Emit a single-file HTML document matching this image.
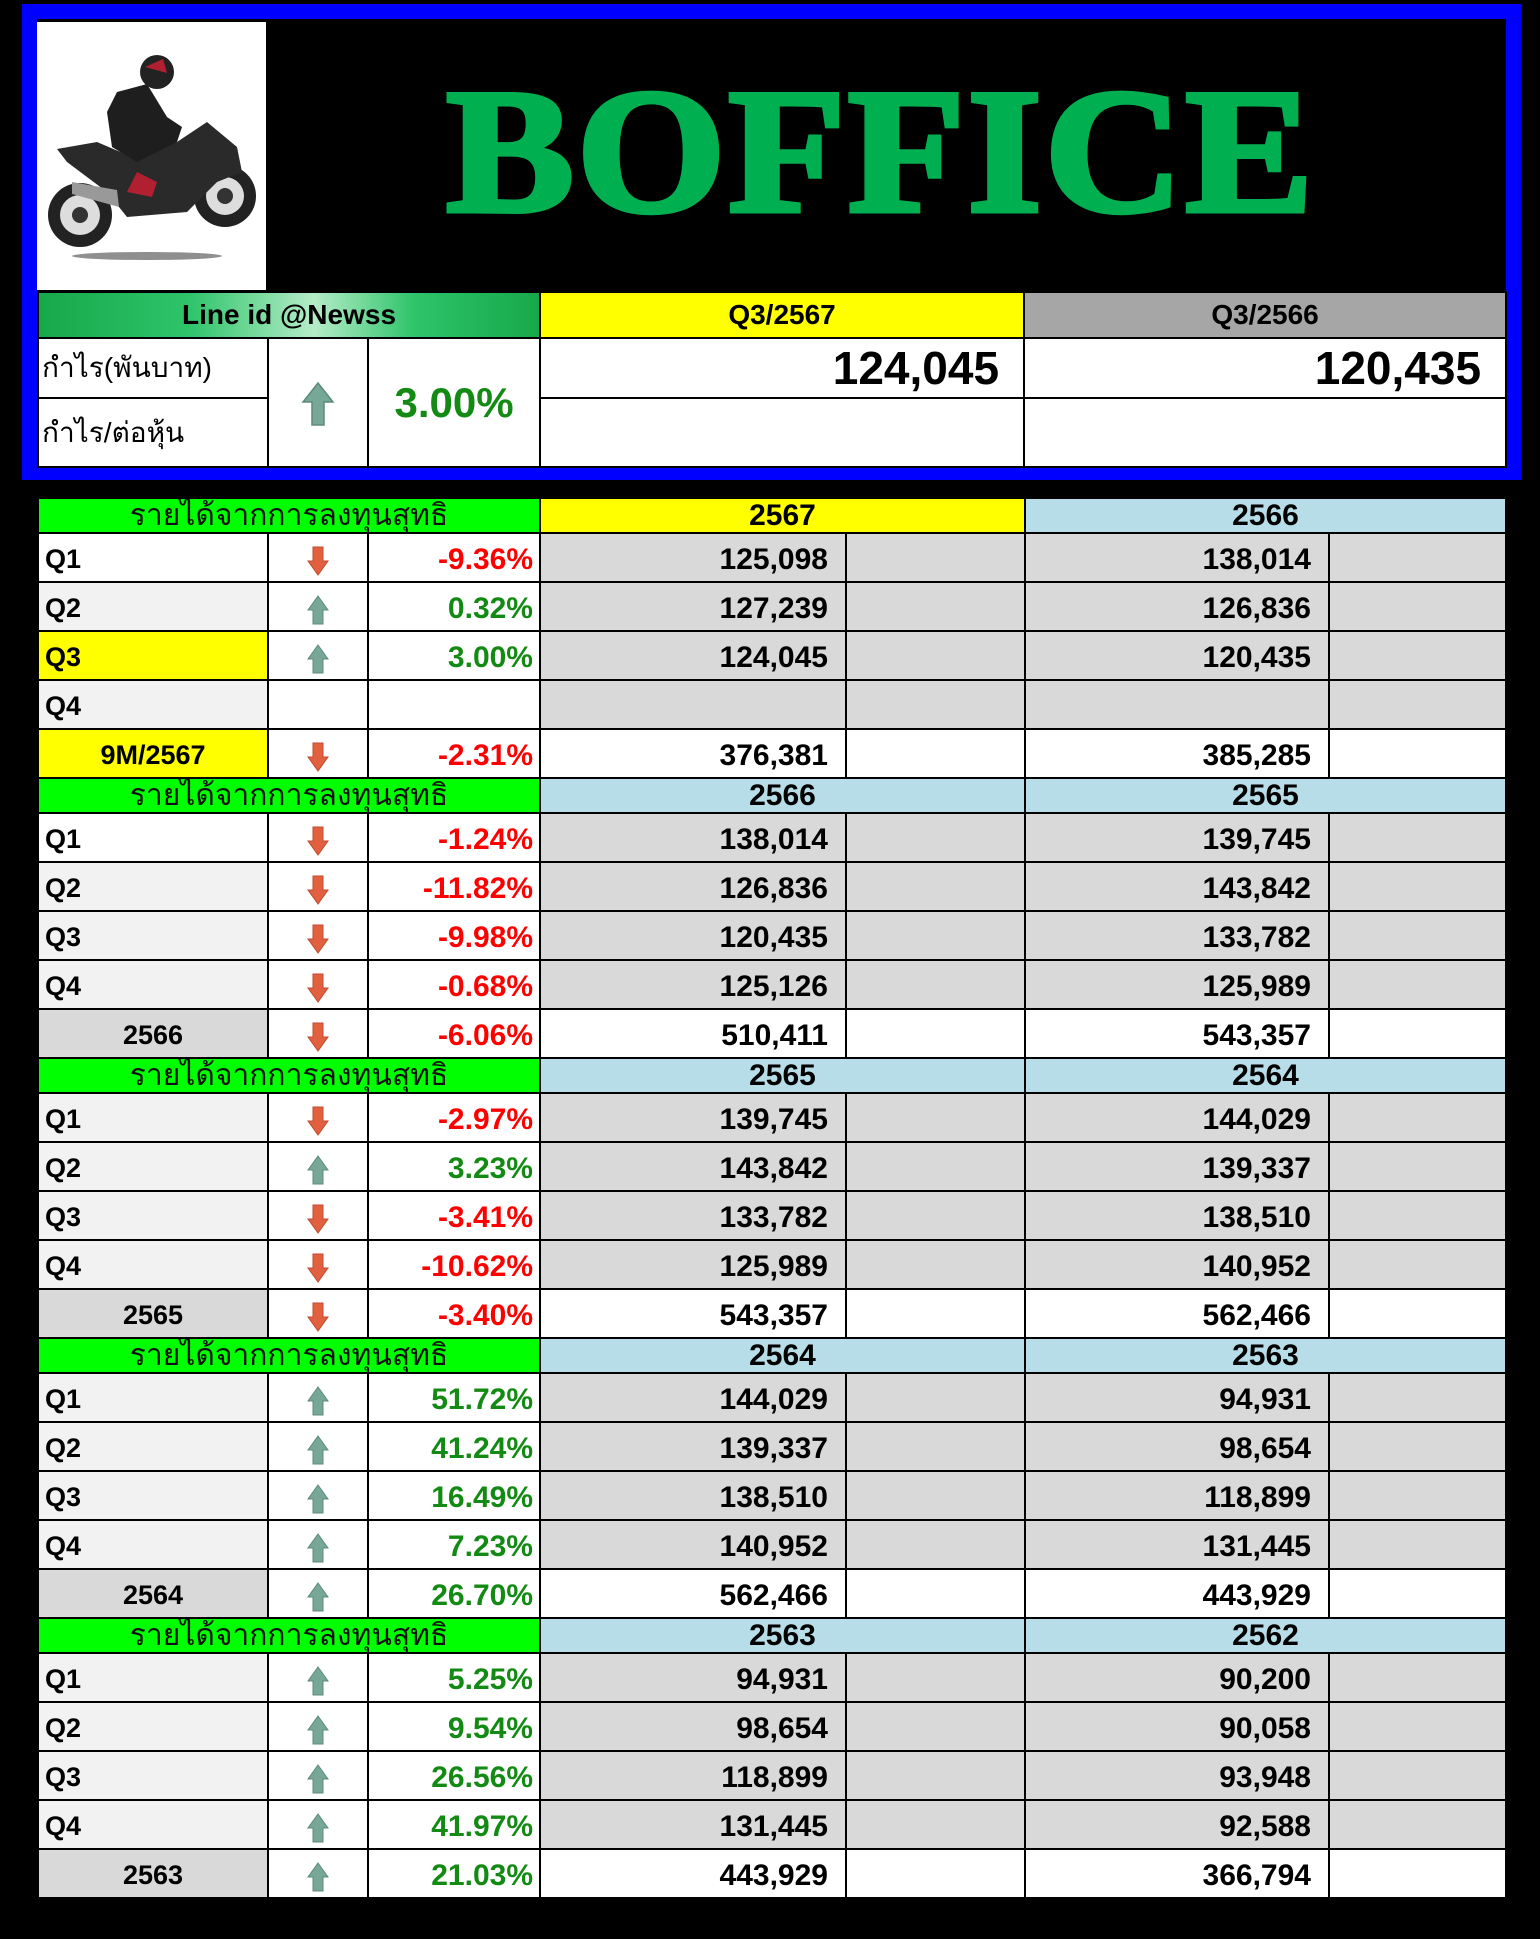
<!DOCTYPE html>
<html><head><meta charset="utf-8">
<style>
*{margin:0;padding:0;box-sizing:border-box}
body{width:1540px;height:1939px;background:#000;position:relative;overflow:hidden;font-family:"Liberation Sans Narrow","Liberation Sans",sans-serif;font-weight:bold}
.abs{position:absolute}
#frame{left:22px;top:4px;width:1499px;height:476px;border:15px solid #0000ff;border-bottom-width:14px;background:#000}
#logo{left:37px;top:22px;width:229px;height:268px;background:#fff}
#title{left:446px;top:66px;width:890px;font-family:"Liberation Serif",serif;font-size:178px;color:#00b050;line-height:170px;letter-spacing:2px;-webkit-text-stroke:5px #00b050;transform:scaleX(1.08);transform-origin:left}
table{border-collapse:collapse;table-layout:fixed;position:absolute}
td{border:2px solid #000;padding:0 6px;white-space:nowrap;overflow:hidden;vertical-align:middle}
td svg{display:block;margin:2px auto 0}
#top{left:37px;top:291px;width:1468px}
#top td{background:#fff}
#main{left:37px;top:497px;width:1468px}
#main tr.h td{height:35px;font-size:30px;text-align:center;line-height:30px}
#main tr.d td{height:49px;font-size:30px;padding-top:4px}
.g{background:#00ff00!important;font-family:"Liberation Sans",sans-serif;font-weight:normal;color:#111}
.y{background:#ffff00!important}
.b{background:#b7dde8!important}
.gr{background:#d9d9d9!important}
.lg{background:#f2f2f2!important}
.w{background:#fff!important}
.r{text-align:right}
.c{text-align:center}
.red{color:#ff0000}
.grn{color:#138a13}
.lab{font-size:27px!important}
</style></head><body>
<div id="frame" class="abs"></div>
<div id="logo" class="abs">
<svg width="229" height="268" viewBox="0 0 229 268">
<ellipse cx="110" cy="234" rx="75" ry="4" fill="#444" opacity=".6"/>
<circle cx="43" cy="193" r="32" fill="#222"/><circle cx="43" cy="193" r="20" fill="#ddd"/><circle cx="43" cy="193" r="8" fill="#333"/>
<circle cx="188" cy="174" r="31" fill="#222"/><circle cx="188" cy="174" r="19" fill="#ddd"/><circle cx="188" cy="174" r="8" fill="#333"/>
<polygon points="20,127 60,120 95,135 140,120 170,100 200,125 205,150 180,160 150,190 90,195 70,170 30,140" fill="#2a2a2a"/>
<polygon points="35,160 80,168 82,185 35,172" fill="#999"/>
<polygon points="80,70 110,62 130,95 145,105 140,120 100,140 75,125 70,90" fill="#1e1e1e"/>
<circle cx="120" cy="50" r="17" fill="#222"/><path d="M108 45 l18 -8 l4 14z" fill="#b02030"/>
<polygon points="100,150 120,160 115,175 90,170" fill="#b02030"/>
</svg></div>
<div id="title" class="abs">BOFFICE</div>

<table id="top">
<colgroup><col style="width:230px"><col style="width:100px"><col style="width:172px"><col style="width:484px"><col style="width:482px"></colgroup>
<tr style="height:46px"><td colspan="3" class="c" style="background:linear-gradient(90deg,#17a84a,#2ec46a 30%,#b5ecc8 55%,#2ec46a 75%,#17a84a)!important;font-size:28px">Line id @Newss</td><td class="c y" style="font-size:28px">Q3/2567</td><td class="c" style="background:#a6a6a6;font-size:28px">Q3/2566</td></tr>
<tr style="height:60px"><td style="font-family:'Liberation Sans',sans-serif;font-weight:normal;font-size:28px;padding-left:3px">กำไร(พันบาท)</td>
<td rowspan="2" class="c"><svg width="34" height="44" viewBox="0 0 34 44"><path d="M17 1 L32 20 L23 20 L23 43 L11 43 L11 20 L2 20 Z" fill="#76a797" stroke="#5d8a7c" stroke-width="1.5"/></svg></td>
<td rowspan="2" class="c grn" style="font-size:42px">3.00%</td>
<td class="r" style="font-size:46px;padding-right:24px">124,045</td><td class="r" style="font-size:46px;padding-right:24px">120,435</td></tr>
<tr style="height:69px"><td style="font-family:'Liberation Sans',sans-serif;font-weight:normal;font-size:28px;padding-left:3px">กำไร/ต่อหุ้น</td><td></td><td></td></tr>
</table>

<table id="main">
<colgroup><col style="width:230px"><col style="width:100px"><col style="width:172px"><col style="width:306px"><col style="width:179px"><col style="width:304px"><col style="width:177px"></colgroup>
<!-- S1 -->
<tr class="h"><td colspan="3" class="g">รายได้จากการลงทุนสุทธิ</td><td colspan="2" class="y">2567</td><td colspan="2" class="b">2566</td></tr>
<tr class="d"><td class="w lab">Q1</td><td class="w c"><svg width="22" height="30" viewBox="0 0 22 30"><path d="M6 1 L16 1 L16 15 L21 15 L11 29 L1 15 L6 15 Z" fill="#e0603f" stroke="#c24a2e"/></svg></td><td class="w r red">-9.36%</td><td class="gr r" style="padding-right:17px">125,098</td><td class="gr"></td><td class="gr r" style="padding-right:17px">138,014</td><td class="gr"></td></tr>
<tr class="d"><td class="lg lab">Q2</td><td class="w c"><svg width="22" height="30" viewBox="0 0 22 30"><path d="M11 1 L21 15 L16 15 L16 29 L6 29 L6 15 L1 15 Z" fill="#76a797" stroke="#5d8a7c"/></svg></td><td class="w r grn">0.32%</td><td class="gr r" style="padding-right:17px">127,239</td><td class="gr"></td><td class="gr r" style="padding-right:17px">126,836</td><td class="gr"></td></tr>
<tr class="d"><td class="y lab">Q3</td><td class="w c"><svg width="22" height="30" viewBox="0 0 22 30"><path d="M11 1 L21 15 L16 15 L16 29 L6 29 L6 15 L1 15 Z" fill="#76a797" stroke="#5d8a7c"/></svg></td><td class="w r grn">3.00%</td><td class="gr r" style="padding-right:17px">124,045</td><td class="gr"></td><td class="gr r" style="padding-right:17px">120,435</td><td class="gr"></td></tr>
<tr class="d"><td class="lg lab">Q4</td><td class="w"></td><td class="w"></td><td class="gr"></td><td class="gr"></td><td class="gr"></td><td class="gr"></td></tr>
<tr class="d"><td class="y c lab">9M/2567</td><td class="w c"><svg width="22" height="30" viewBox="0 0 22 30"><path d="M6 1 L16 1 L16 15 L21 15 L11 29 L1 15 L6 15 Z" fill="#e0603f" stroke="#c24a2e"/></svg></td><td class="w r red">-2.31%</td><td class="w r" style="padding-right:17px">376,381</td><td class="w"></td><td class="w r" style="padding-right:17px">385,285</td><td class="w"></td></tr>
<!-- S2 -->
<tr class="h"><td colspan="3" class="g">รายได้จากการลงทุนสุทธิ</td><td colspan="2" class="b">2566</td><td colspan="2" class="b">2565</td></tr>
<tr class="d"><td class="w lab">Q1</td><td class="w c"><svg width="22" height="30" viewBox="0 0 22 30"><path d="M6 1 L16 1 L16 15 L21 15 L11 29 L1 15 L6 15 Z" fill="#e0603f" stroke="#c24a2e"/></svg></td><td class="w r red">-1.24%</td><td class="gr r" style="padding-right:17px">138,014</td><td class="gr"></td><td class="gr r" style="padding-right:17px">139,745</td><td class="gr"></td></tr>
<tr class="d"><td class="lg lab">Q2</td><td class="w c"><svg width="22" height="30" viewBox="0 0 22 30"><path d="M6 1 L16 1 L16 15 L21 15 L11 29 L1 15 L6 15 Z" fill="#e0603f" stroke="#c24a2e"/></svg></td><td class="w r red">-11.82%</td><td class="gr r" style="padding-right:17px">126,836</td><td class="gr"></td><td class="gr r" style="padding-right:17px">143,842</td><td class="gr"></td></tr>
<tr class="d"><td class="lg lab">Q3</td><td class="w c"><svg width="22" height="30" viewBox="0 0 22 30"><path d="M6 1 L16 1 L16 15 L21 15 L11 29 L1 15 L6 15 Z" fill="#e0603f" stroke="#c24a2e"/></svg></td><td class="w r red">-9.98%</td><td class="gr r" style="padding-right:17px">120,435</td><td class="gr"></td><td class="gr r" style="padding-right:17px">133,782</td><td class="gr"></td></tr>
<tr class="d"><td class="lg lab">Q4</td><td class="w c"><svg width="22" height="30" viewBox="0 0 22 30"><path d="M6 1 L16 1 L16 15 L21 15 L11 29 L1 15 L6 15 Z" fill="#e0603f" stroke="#c24a2e"/></svg></td><td class="w r red">-0.68%</td><td class="gr r" style="padding-right:17px">125,126</td><td class="gr"></td><td class="gr r" style="padding-right:17px">125,989</td><td class="gr"></td></tr>
<tr class="d"><td class="gr c lab">2566</td><td class="w c"><svg width="22" height="30" viewBox="0 0 22 30"><path d="M6 1 L16 1 L16 15 L21 15 L11 29 L1 15 L6 15 Z" fill="#e0603f" stroke="#c24a2e"/></svg></td><td class="w r red">-6.06%</td><td class="w r" style="padding-right:17px">510,411</td><td class="w"></td><td class="w r" style="padding-right:17px">543,357</td><td class="w"></td></tr>
<!-- S3 -->
<tr class="h"><td colspan="3" class="g">รายได้จากการลงทุนสุทธิ</td><td colspan="2" class="b">2565</td><td colspan="2" class="b">2564</td></tr>
<tr class="d"><td class="lg lab">Q1</td><td class="w c"><svg width="22" height="30" viewBox="0 0 22 30"><path d="M6 1 L16 1 L16 15 L21 15 L11 29 L1 15 L6 15 Z" fill="#e0603f" stroke="#c24a2e"/></svg></td><td class="w r red">-2.97%</td><td class="gr r" style="padding-right:17px">139,745</td><td class="gr"></td><td class="gr r" style="padding-right:17px">144,029</td><td class="gr"></td></tr>
<tr class="d"><td class="lg lab">Q2</td><td class="w c"><svg width="22" height="30" viewBox="0 0 22 30"><path d="M11 1 L21 15 L16 15 L16 29 L6 29 L6 15 L1 15 Z" fill="#76a797" stroke="#5d8a7c"/></svg></td><td class="w r grn">3.23%</td><td class="gr r" style="padding-right:17px">143,842</td><td class="gr"></td><td class="gr r" style="padding-right:17px">139,337</td><td class="gr"></td></tr>
<tr class="d"><td class="lg lab">Q3</td><td class="w c"><svg width="22" height="30" viewBox="0 0 22 30"><path d="M6 1 L16 1 L16 15 L21 15 L11 29 L1 15 L6 15 Z" fill="#e0603f" stroke="#c24a2e"/></svg></td><td class="w r red">-3.41%</td><td class="gr r" style="padding-right:17px">133,782</td><td class="gr"></td><td class="gr r" style="padding-right:17px">138,510</td><td class="gr"></td></tr>
<tr class="d"><td class="lg lab">Q4</td><td class="w c"><svg width="22" height="30" viewBox="0 0 22 30"><path d="M6 1 L16 1 L16 15 L21 15 L11 29 L1 15 L6 15 Z" fill="#e0603f" stroke="#c24a2e"/></svg></td><td class="w r red">-10.62%</td><td class="gr r" style="padding-right:17px">125,989</td><td class="gr"></td><td class="gr r" style="padding-right:17px">140,952</td><td class="gr"></td></tr>
<tr class="d"><td class="gr c lab">2565</td><td class="w c"><svg width="22" height="30" viewBox="0 0 22 30"><path d="M6 1 L16 1 L16 15 L21 15 L11 29 L1 15 L6 15 Z" fill="#e0603f" stroke="#c24a2e"/></svg></td><td class="w r red">-3.40%</td><td class="w r" style="padding-right:17px">543,357</td><td class="w"></td><td class="w r" style="padding-right:17px">562,466</td><td class="w"></td></tr>
<!-- S4 -->
<tr class="h"><td colspan="3" class="g">รายได้จากการลงทุนสุทธิ</td><td colspan="2" class="b">2564</td><td colspan="2" class="b">2563</td></tr>
<tr class="d"><td class="lg lab">Q1</td><td class="w c"><svg width="22" height="30" viewBox="0 0 22 30"><path d="M11 1 L21 15 L16 15 L16 29 L6 29 L6 15 L1 15 Z" fill="#76a797" stroke="#5d8a7c"/></svg></td><td class="w r grn">51.72%</td><td class="gr r" style="padding-right:17px">144,029</td><td class="gr"></td><td class="gr r" style="padding-right:17px">94,931</td><td class="gr"></td></tr>
<tr class="d"><td class="lg lab">Q2</td><td class="w c"><svg width="22" height="30" viewBox="0 0 22 30"><path d="M11 1 L21 15 L16 15 L16 29 L6 29 L6 15 L1 15 Z" fill="#76a797" stroke="#5d8a7c"/></svg></td><td class="w r grn">41.24%</td><td class="gr r" style="padding-right:17px">139,337</td><td class="gr"></td><td class="gr r" style="padding-right:17px">98,654</td><td class="gr"></td></tr>
<tr class="d"><td class="lg lab">Q3</td><td class="w c"><svg width="22" height="30" viewBox="0 0 22 30"><path d="M11 1 L21 15 L16 15 L16 29 L6 29 L6 15 L1 15 Z" fill="#76a797" stroke="#5d8a7c"/></svg></td><td class="w r grn">16.49%</td><td class="gr r" style="padding-right:17px">138,510</td><td class="gr"></td><td class="gr r" style="padding-right:17px">118,899</td><td class="gr"></td></tr>
<tr class="d"><td class="lg lab">Q4</td><td class="w c"><svg width="22" height="30" viewBox="0 0 22 30"><path d="M11 1 L21 15 L16 15 L16 29 L6 29 L6 15 L1 15 Z" fill="#76a797" stroke="#5d8a7c"/></svg></td><td class="w r grn">7.23%</td><td class="gr r" style="padding-right:17px">140,952</td><td class="gr"></td><td class="gr r" style="padding-right:17px">131,445</td><td class="gr"></td></tr>
<tr class="d"><td class="gr c lab">2564</td><td class="w c"><svg width="22" height="30" viewBox="0 0 22 30"><path d="M11 1 L21 15 L16 15 L16 29 L6 29 L6 15 L1 15 Z" fill="#76a797" stroke="#5d8a7c"/></svg></td><td class="w r grn">26.70%</td><td class="w r" style="padding-right:17px">562,466</td><td class="w"></td><td class="w r" style="padding-right:17px">443,929</td><td class="w"></td></tr>
<!-- S5 -->
<tr class="h"><td colspan="3" class="g">รายได้จากการลงทุนสุทธิ</td><td colspan="2" class="b">2563</td><td colspan="2" class="b">2562</td></tr>
<tr class="d"><td class="lg lab">Q1</td><td class="w c"><svg width="22" height="30" viewBox="0 0 22 30"><path d="M11 1 L21 15 L16 15 L16 29 L6 29 L6 15 L1 15 Z" fill="#76a797" stroke="#5d8a7c"/></svg></td><td class="w r grn">5.25%</td><td class="gr r" style="padding-right:17px">94,931</td><td class="gr"></td><td class="gr r" style="padding-right:17px">90,200</td><td class="gr"></td></tr>
<tr class="d"><td class="lg lab">Q2</td><td class="w c"><svg width="22" height="30" viewBox="0 0 22 30"><path d="M11 1 L21 15 L16 15 L16 29 L6 29 L6 15 L1 15 Z" fill="#76a797" stroke="#5d8a7c"/></svg></td><td class="w r grn">9.54%</td><td class="gr r" style="padding-right:17px">98,654</td><td class="gr"></td><td class="gr r" style="padding-right:17px">90,058</td><td class="gr"></td></tr>
<tr class="d"><td class="lg lab">Q3</td><td class="w c"><svg width="22" height="30" viewBox="0 0 22 30"><path d="M11 1 L21 15 L16 15 L16 29 L6 29 L6 15 L1 15 Z" fill="#76a797" stroke="#5d8a7c"/></svg></td><td class="w r grn">26.56%</td><td class="gr r" style="padding-right:17px">118,899</td><td class="gr"></td><td class="gr r" style="padding-right:17px">93,948</td><td class="gr"></td></tr>
<tr class="d"><td class="lg lab">Q4</td><td class="w c"><svg width="22" height="30" viewBox="0 0 22 30"><path d="M11 1 L21 15 L16 15 L16 29 L6 29 L6 15 L1 15 Z" fill="#76a797" stroke="#5d8a7c"/></svg></td><td class="w r grn">41.97%</td><td class="gr r" style="padding-right:17px">131,445</td><td class="gr"></td><td class="gr r" style="padding-right:17px">92,588</td><td class="gr"></td></tr>
<tr class="d"><td class="gr c lab">2563</td><td class="w c"><svg width="22" height="30" viewBox="0 0 22 30"><path d="M11 1 L21 15 L16 15 L16 29 L6 29 L6 15 L1 15 Z" fill="#76a797" stroke="#5d8a7c"/></svg></td><td class="w r grn">21.03%</td><td class="w r" style="padding-right:17px">443,929</td><td class="w"></td><td class="w r" style="padding-right:17px">366,794</td><td class="w"></td></tr>
</table>
</body></html>
